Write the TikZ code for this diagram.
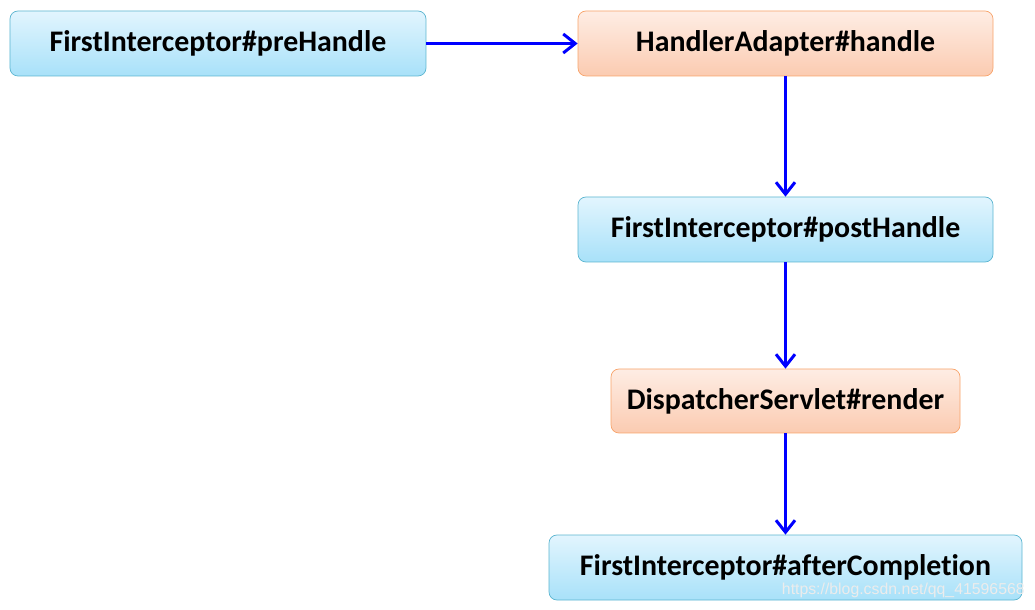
\documentclass[tikz,border=0pt]{standalone}
\usepackage{fontspec}
\setmainfont{Carlito}[RawFeature=-liga]
\newfontfamily\markfont{Liberation Sans}
\usetikzlibrary{arrows.meta,shapes}
\definecolor{BlueTop}{RGB}{226,245,254}
\definecolor{BlueBot}{RGB}{168,225,249}
\definecolor{BlueLine}{RGB}{91,181,208}
\definecolor{OrangeTop}{RGB}{254,237,228}
\definecolor{OrangeBot}{RGB}{251,203,177}
\definecolor{OrangeLine}{RGB}{248,163,106}
\definecolor{ArrowBlue}{RGB}{0,0,255}

\begin{document}
\begin{tikzpicture}[
  bluebox/.style={draw=BlueLine, top color=BlueTop, bottom color=BlueBot, rounded corners=0.16cm, minimum height=1.3cm, font=\bfseries\fontsize{17}{20}\selectfont, text centered},
  orangebox/.style={draw=OrangeLine, top color=OrangeTop, bottom color=OrangeBot, rounded corners=0.16cm, minimum height=1.3cm, font=\bfseries\fontsize{17}{20}\selectfont, text centered},
  flow/.style={-{Straight Barb[length=2.4mm,width=3.8mm]}, line width=0.06cm, draw=ArrowBlue}
]
\useasboundingbox (0,0) rectangle (20.7,12.18);

\node[bluebox, minimum width=8.32cm] (pre) at (4.36,11.31) {FirstInterceptor\#preHandle};

\node[orangebox, minimum width=8.30cm] (handle) at (15.71,11.31) {HandlerAdapter\#handle};

\node[bluebox, minimum width=8.30cm] (post) at (15.71,7.59) {FirstInterceptor\#postHandle};

\node[orangebox, minimum width=6.98cm, minimum height=1.28cm] (render) at (15.71,4.16) {DispatcherServlet\#render};

\node[bluebox, minimum width=9.46cm] (after) at (15.71,0.83) {FirstInterceptor\#afterCompletion};

\node[anchor=east, inner sep=0pt, text=white!85!gray, font=\markfont\fontsize{9}{11}\selectfont] (mark) at (20.5,0.38) {https://blog.csdn.net/qq\_41596568};

\draw[flow] (pre) to (handle);
\draw[flow] (handle) to (post);
\draw[flow] (post) to (render);
\draw[flow] (render) to (after);

\end{tikzpicture}
\end{document}
